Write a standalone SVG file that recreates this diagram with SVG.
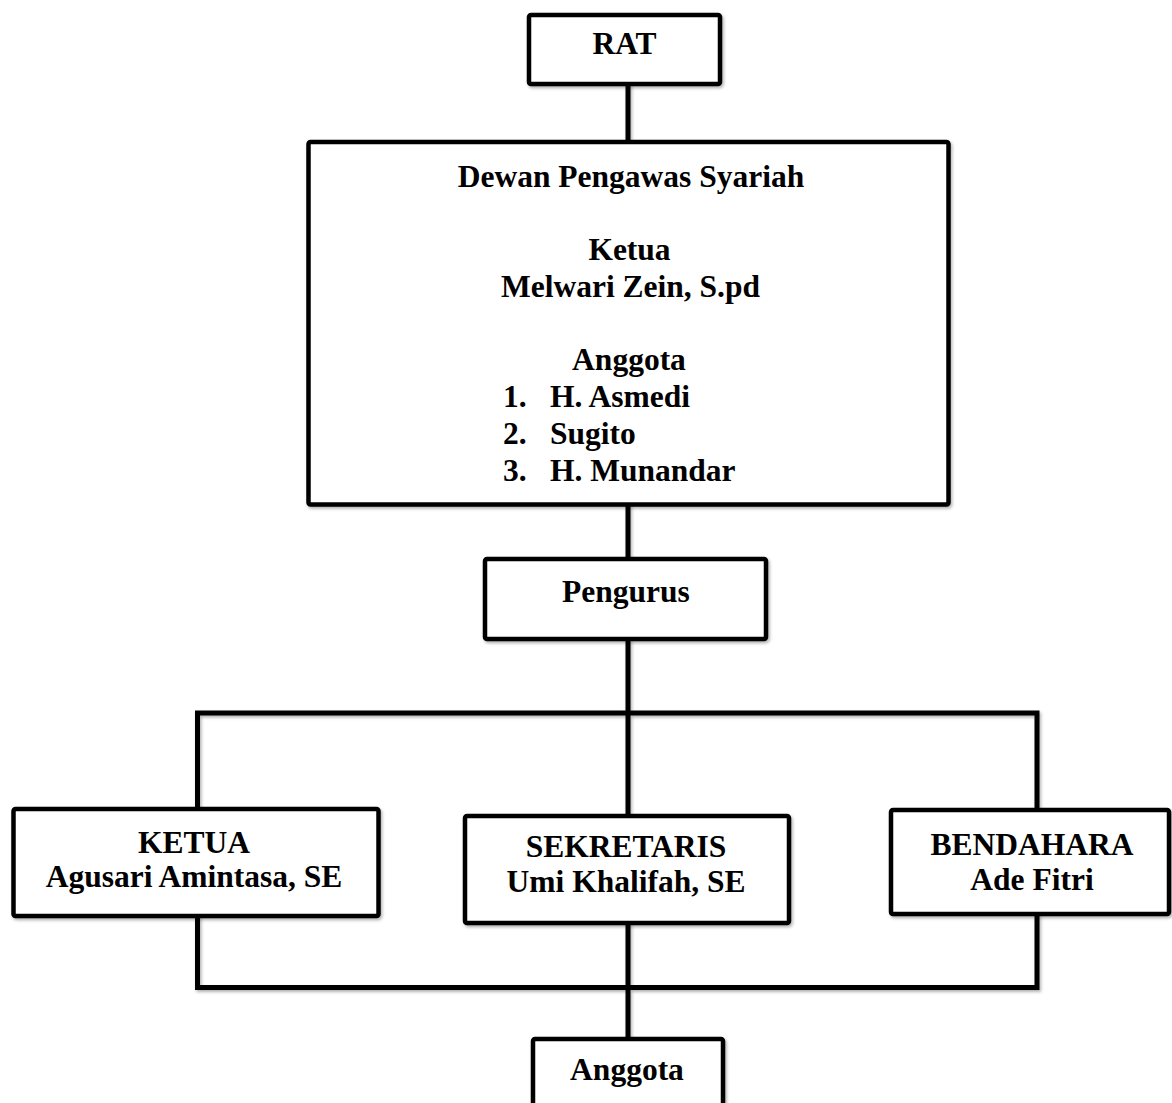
<svg xmlns="http://www.w3.org/2000/svg" width="1172" height="1103" viewBox="0 0 1172 1103">
  <defs>
    <filter id="sh" x="-5%" y="-5%" width="115%" height="120%">
      <feDropShadow dx="1.5" dy="2" stdDeviation="1.5" flood-color="#000" flood-opacity="0.3"/>
    </filter>
    <filter id="shl" filterUnits="userSpaceOnUse" x="0" y="0" width="1172" height="1103">
      <feDropShadow dx="1.5" dy="2" stdDeviation="1.5" flood-color="#000" flood-opacity="0.3"/>
    </filter>
    <style>
      .box { fill: #ffffff; stroke: #000; stroke-width: 4.5; stroke-linejoin: round; filter: url(#sh); }
      .ln { fill: none; stroke: #000; stroke-width: 5; stroke-linecap: butt; }
      .t { font-family: "Liberation Serif", "Times New Roman", serif; font-weight: bold; font-size: 31.5px; fill: #000; }
      .c { text-anchor: middle; }
    </style>
  </defs>
  <rect width="1172" height="1103" fill="#ffffff"/>

  <g id="connectors" filter="url(#shl)">
    <line class="ln" x1="628" y1="84" x2="628" y2="142"/>
    <line class="ln" x1="628" y1="504" x2="628" y2="559"/>
    <line class="ln" x1="628" y1="639" x2="628" y2="816"/>
    <polyline class="ln" points="197.5,808 197.5,713 1037,713 1037,810"/>
    <polyline class="ln" points="197.5,916 197.5,987.5 1037,987.5 1037,914"/>
    <line class="ln" x1="628" y1="923" x2="628" y2="1039"/>
  </g>

  <g id="rat">
    <rect class="box" x="529" y="15" width="191" height="69" rx="2"/>
    <text class="t c" x="624.5" y="54">RAT</text>
  </g>

  <g id="dewan-pengawas-syariah">
    <rect class="box" x="308.5" y="142" width="640" height="362.5" rx="2"/>
    <text class="t c" x="631" y="187">Dewan Pengawas Syariah</text>
    <text class="t c" x="629.5" y="260">Ketua</text>
    <text class="t c" x="630.5" y="297">Melwari Zein, S.pd</text>
    <text class="t c" x="629" y="370">Anggota</text>
    <text class="t" x="503" y="407">1.</text>
    <text class="t" x="550" y="407">H. Asmedi</text>
    <text class="t" x="503" y="444">2.</text>
    <text class="t" x="550" y="444">Sugito</text>
    <text class="t" x="503" y="481">3.</text>
    <text class="t" x="550" y="481">H. Munandar</text>
  </g>

  <g id="pengurus">
    <rect class="box" x="485" y="559" width="281" height="80" rx="2"/>
    <text class="t c" x="626" y="602">Pengurus</text>
  </g>

  <g id="ketua">
    <rect class="box" x="13.5" y="809" width="365" height="107" rx="2"/>
    <text class="t c" x="194" y="853">KETUA</text>
    <text class="t c" x="194" y="887">Agusari Amintasa, SE</text>
  </g>

  <g id="sekretaris">
    <rect class="box" x="465" y="816" width="324" height="107" rx="2"/>
    <text class="t c" x="626" y="857">SEKRETARIS</text>
    <text class="t c" x="626" y="892">Umi Khalifah, SE</text>
  </g>

  <g id="bendahara">
    <rect class="box" x="891" y="810" width="278" height="104" rx="2"/>
    <text class="t c" x="1032" y="855">BENDAHARA</text>
    <text class="t c" x="1032" y="890">Ade Fitri</text>
  </g>

  <g id="anggota">
    <rect class="box" x="533" y="1039" width="190" height="90" rx="2"/>
    <text class="t c" x="627" y="1080">Anggota</text>
  </g>
</svg>
